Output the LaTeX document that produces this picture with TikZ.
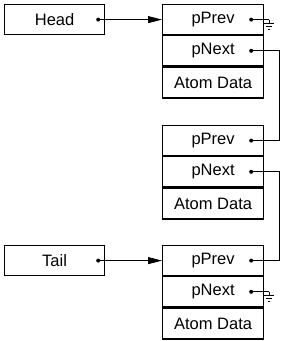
\documentclass[tikz,border=0pt]{standalone}
\usepackage{fontspec}
\setmainfont{Liberation Sans}
\usetikzlibrary{arrows.meta,positioning}

\begin{document}
\begin{tikzpicture}[
        x=1pt,
        y=-1pt,
        font=\fontsize{16.5}{19}\selectfont,
        cell/.style={draw, line width=1.2pt, minimum width=101pt, minimum height=30pt, inner sep=0pt, anchor=north west},
        namebox/.style={cell, minimum width=100pt},
        link/.style={line width=0.8pt, -{Triangle[length=14pt, width=7pt]}},
        ptr/.style={line width=1.3pt},
        nil/.pic={\draw[line width=0.8pt] (0,0) -- (0,4) (-5,4) -- (5,4) (-3,7) -- (3,7) (-1,10) -- (1,10);}
    ]
        \useasboundingbox (0,0) rectangle (284,341);

        \node[namebox] (head) at (4,4) {Head};
        \node[namebox] (tail) at (4,245) {Tail};

        \foreach \i/\top in {1/4,2/125,3/245} {
            \node[cell] (prev\i) at (162,\top) {pPrev};
            \node[cell, below=0pt of prev\i] (next\i) {pNext};
            \node[cell, below=0pt of next\i, minimum height=31pt] (data\i) {Atom Data};
            \coordinate (prev\i dot) at ([xshift=-13pt]prev\i.east);
            \coordinate (next\i dot) at ([xshift=-13pt]next\i.east);
            \fill (prev\i dot) circle[radius=2pt] (next\i dot) circle[radius=2pt];
        }

        \foreach \n in {head,tail} {
            \coordinate (\n dot) at ([xshift=-7pt]\n.east);
            \fill (\n dot) circle[radius=2pt];
        }

        % head and tail
        \draw[link] (headdot) -- (prev1);
        \draw[link] (taildot) -- (prev3);

        % next / prev pointers
        \draw[ptr] (next1dot) -- ++(28,0) |- (prev2dot);
        \draw[ptr] (next2dot) -- ++(28,0) |- (prev3dot);

        % null ends
        \draw[ptr] (prev1dot) -- ++(18,0) pic {nil};
        \draw[ptr] (next3dot) -- ++(18,0) pic {nil};
\end{tikzpicture}
\end{document}
